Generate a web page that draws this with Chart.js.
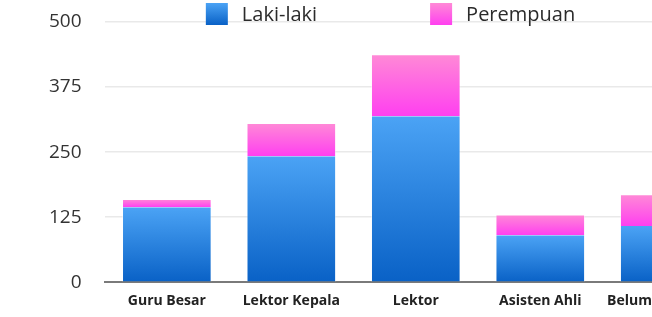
<!DOCTYPE html>
<html>
<head>
<meta charset="utf-8">
<script src="https://cdn.jsdelivr.net/npm/chart.js@4/dist/chart.umd.min.js"></script>
<style>
  html, body { margin: 0; padding: 0; background: #fff; overflow: hidden; }
  canvas { display: block; }
</style>
</head>
<body>
<canvas id="chart" width="785" height="317"></canvas>
<script>
const categories = ["Guru Besar", "Lektor Kepala", "Lektor", "Asisten Ahli", "Belum Menjabat"];
const lakiLaki = [144, 242, 319, 90, 108];
const perempuan = [16, 64, 119, 40, 61];
const yTicks = [0, 125, 250, 375, 500];

const blueStops = ["#4ba3f5", "#0961c6"];
const pinkStops = ["#ff8ad6", "#ff3ff0"];

// gradient per segment, from the top of the segment down to its base
function segGradient(stops, below) {
  return function (ctx) {
    const chart = ctx.chart;
    const y = chart.scales.y;
    if (!y || ctx.type !== "data") return stops[0];
    const i = ctx.dataIndex;
    const base = below ? below[i] : 0;
    const top = y.getPixelForValue(base + ctx.raw);
    const bottom = y.getPixelForValue(base);
    if (!isFinite(top) || !isFinite(bottom)) return stops[0];
    const g = chart.ctx.createLinearGradient(0, top, 0, bottom);
    g.addColorStop(0, stops[0]);
    g.addColorStop(1, stops[1]);
    return g;
  };
}

const legendItems = [
  { text: "Laki-laki", stops: blueStops },
  { text: "Perempuan", stops: pinkStops }
];

const customLegend = {
  id: "customLegend",
  afterDraw(chart) {
    const c = chart.ctx;
    const box = 22, gapText = 14, gapItem = 113, top = 3;
    c.save();
    c.font = "20px 'Open Sans'";
    c.textBaseline = "middle";
    const widths = legendItems.map(it => c.measureText(it.text).width);
    let total = 0;
    legendItems.forEach((it, i) => {
      total += box + gapText + widths[i] + (i < legendItems.length - 1 ? gapItem : 0);
    });
    let x = chart.width / 2 - total / 2 - 2;
    legendItems.forEach((it, i) => {
      const g = c.createLinearGradient(0, top, 0, top + box);
      g.addColorStop(0, it.stops[0]);
      g.addColorStop(1, it.stops[1]);
      c.fillStyle = g;
      c.fillRect(x, top, box, box);
      c.fillStyle = "#2b2b2b";
      c.fillText(it.text, x + box + gapText, top + box / 2 + 1);
      x += box + gapText + widths[i] + gapItem;
    });
    c.restore();
  }
};

new Chart(document.getElementById("chart"), {
  type: "bar",
  data: {
    labels: categories,
    datasets: [
      {
        label: "Laki-laki",
        data: lakiLaki,
        backgroundColor: segGradient(blueStops, null),
        borderColor: "rgba(255,255,255,0.45)",
        borderWidth: { top: 0, left: 1, right: 1, bottom: 0 },
        borderSkipped: false
      },
      {
        label: "Perempuan",
        data: perempuan,
        backgroundColor: segGradient(pinkStops, lakiLaki),
        borderColor: "rgba(255,255,255,0.45)",
        borderWidth: { top: 1, left: 1, right: 1, bottom: 0 },
        borderSkipped: false
      }
    ]
  },
  plugins: [customLegend],
  options: {
    responsive: false,
    animation: false,
    layout: { padding: { top: 0, left: 26, right: 58, bottom: 0 } },
    plugins: {
      legend: { display: false },
      tooltip: { enabled: false }
    },
    scales: {
      x: {
        stacked: true,
        afterFit: axis => { axis.height -= 2; },
        grid: { display: false, drawTicks: false },
        border: { color: "#7a7a7a", width: 2 },
        ticks: {
          color: "#222",
          padding: 10,
          maxRotation: 0,
          minRotation: 0,
          autoSkip: false,
          font: { family: "'Open Sans'", size: 14, weight: "bold" }
        }
      },
      y: {
        stacked: true,
        min: 0,
        max: 500,
        afterBuildTicks: axis => { axis.ticks = yTicks.map(v => ({ value: v })); },
        afterFit: axis => { axis.paddingTop = 22; axis.paddingBottom = 0; },
        grid: { color: "#e9e9e9", lineWidth: 1.5, drawTicks: false },
        border: { display: false },
        ticks: {
          color: "#333",
          padding: 23,
          font: { family: "'Open Sans'", size: 19 }
        }
      }
    }
  }
});
</script>
</body>
</html>
